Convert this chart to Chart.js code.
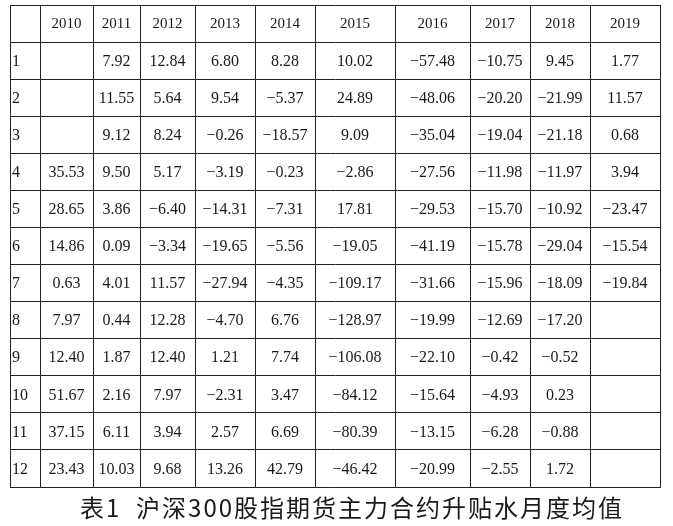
<!DOCTYPE html>
<html>
<head>
<meta charset="utf-8">
<script src="https://cdn.jsdelivr.net/npm/chart.js@4"></script>
<style>
  html, body { margin: 0; padding: 0; background: #fff; }
  #wrap { position: absolute; left: 0; top: 0; width: 673px; height: 526px; }
</style>
</head>
<body>
<div id="wrap"><canvas id="c"></canvas></div>
<script>
// table values, one array per year (month 1..12), null = empty cell
const years = ["2010","2011","2012","2013","2014","2015","2016","2017","2018","2019"];
const months = [1,2,3,4,5,6,7,8,9,10,11,12];
const y2010 = [null,null,null,35.53,28.65,14.86,0.63,7.97,12.40,51.67,37.15,23.43];
const y2011 = [7.92,11.55,9.12,9.50,3.86,0.09,4.01,0.44,1.87,2.16,6.11,10.03];
const y2012 = [12.84,5.64,8.24,5.17,-6.40,-3.34,11.57,12.28,12.40,7.97,3.94,9.68];
const y2013 = [6.80,9.54,-0.26,-3.19,-14.31,-19.65,-27.94,-4.70,1.21,-2.31,2.57,13.26];
const y2014 = [8.28,-5.37,-18.57,-0.23,-7.31,-5.56,-4.35,6.76,7.74,3.47,6.69,42.79];
const y2015 = [10.02,24.89,9.09,-2.86,17.81,-19.05,-109.17,-128.97,-106.08,-84.12,-80.39,-46.42];
const y2016 = [-57.48,-48.06,-35.04,-27.56,-29.53,-41.19,-31.66,-19.99,-22.10,-15.64,-13.15,-20.99];
const y2017 = [-10.75,-20.20,-19.04,-11.98,-15.70,-15.78,-15.96,-12.69,-0.42,-4.93,-6.28,-2.55];
const y2018 = [9.45,-21.99,-21.18,-11.97,-10.92,-29.04,-18.09,-17.20,-0.52,0.23,-0.88,1.72];
const y2019 = [1.77,11.57,0.68,3.94,-23.47,-15.54,-19.84,null,null,null,null,null];
const series = [y2010,y2011,y2012,y2013,y2014,y2015,y2016,y2017,y2018,y2019];
const caption = "表1  沪深300股指期货主力合约升贴水月度均值";

// layout: column widths in table units (first is the month column)
const COL_W = [30,53,47,55,60,60,80,75,60,60,70];
const bounds = COL_W.reduce((a, w) => (a.push(a[a.length - 1] + w), a), [0]);
const centers = COL_W.map((w, i) => bounds[i] + w / 2);

const fmt = v => (v < 0 ? "\u2212" : "") + Math.abs(v).toFixed(2);

const points = [];
series.forEach((arr, ci) => arr.forEach((v, mi) => {
  if (v !== null) points.push({ x: centers[ci + 1], y: months[mi], t: fmt(v) });
}));
years.forEach((yr, ci) => points.push({ x: centers[ci + 1], y: 0, t: yr, head: true }));
months.forEach(m => points.push({ x: bounds[0] + 2, y: m, t: String(m), left: true }));

const cellText = {
  id: "cellText",
  afterDatasetsDraw(chart) {
    const ctx = chart.ctx;
    const meta = chart.getDatasetMeta(0);
    ctx.save();
    ctx.fillStyle = "#1a1a1a";
    ctx.textBaseline = "middle";
    meta.data.forEach((el, i) => {
      const p = points[i];
      ctx.font = (p.head ? "15px" : "16px") + " 'Liberation Serif', 'DejaVu Serif', serif";
      ctx.textAlign = p.left ? "left" : "center";
      ctx.fillText(p.t, el.x, el.y + 1);
    });
    const a = chart.chartArea;
    ctx.font = "24px 'Noto Sans CJK SC', sans-serif";
    ctx.letterSpacing = "2px";
    ctx.textAlign = "center";
    ctx.fillText(caption, 352, a.bottom + 21);
    ctx.restore();
  }
};

new Chart(document.getElementById("c").getContext("2d"), {
  type: "scatter",
  data: { datasets: [{ data: points, pointRadius: 0, pointHoverRadius: 0 }] },
  options: {
    responsive: true, maintainAspectRatio: false, animation: false, events: [],
    layout: { padding: { left: 10, right: 13, top: 5, bottom: 39 } },
    plugins: { legend: { display: false }, tooltip: { enabled: false } },
    scales: {
      x: {
        type: "linear", min: 0, max: bounds[bounds.length - 1],
        afterBuildTicks: s => { s.ticks = bounds.map(v => ({ value: v })); },
        ticks: { display: false },
        grid: { color: "#222", lineWidth: 1, drawTicks: false },
        border: { display: true, color: "#222" }
      },
      y: {
        type: "linear", reverse: true, min: -0.5, max: 12.5,
        afterBuildTicks: s => { s.ticks = [-0.5, ...months.map(m => m - 0.5), 12.5].map(v => ({ value: v })); },
        ticks: { display: false },
        grid: { color: "#222", lineWidth: 1, drawTicks: false },
        border: { display: true, color: "#222" }
      }
    }
  },
  plugins: [cellText]
});
</script>
</body>
</html>
